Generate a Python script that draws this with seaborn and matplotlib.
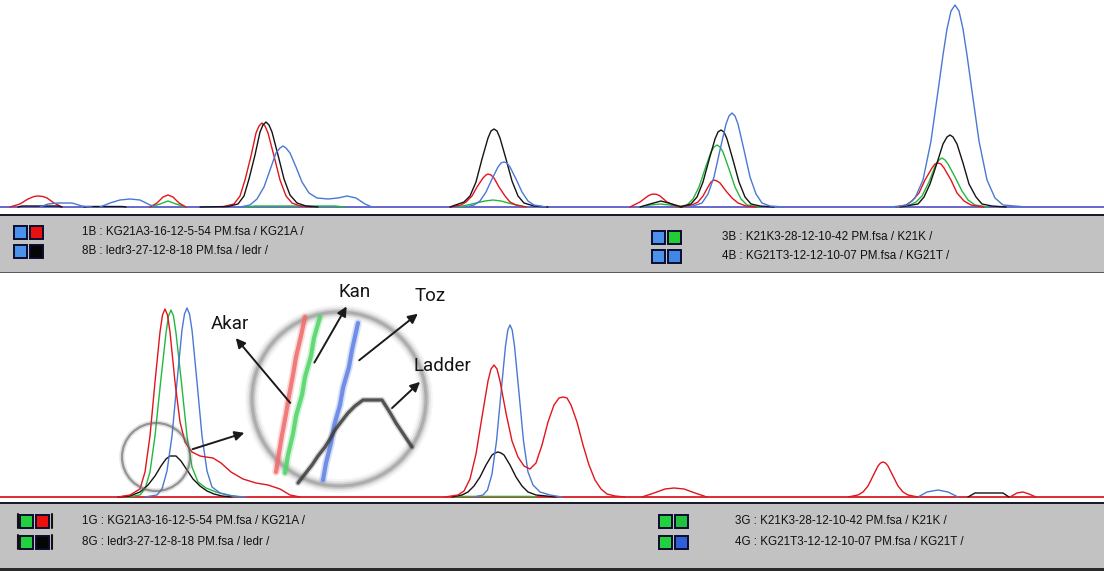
import numpy as np
import pandas as pd
import seaborn as sns
import matplotlib
matplotlib.use("Agg")
import matplotlib.pyplot as plt
from matplotlib.patches import Rectangle, Circle

# ---------------- data (x in trace units, y = signal height) ----------------
top_red = [
    [(10, 0), (20, 3), (28, 8), (34, 10.5), (38, 11), (43, 10.5), (47, 9), (54, 4), (62, 0)],
    [(150, 0), (157, 4), (163, 10), (168, 12), (173, 10), (179, 4), (186, 0)],
    [(222, 0), (234, 3), (240, 11), (245, 27), (251, 51), (256, 74), (259, 81), (262, 84), (265, 81), (268, 74), (274, 51), (280, 27), (286, 11), (292, 4), (300, 1), (312, 0)],
    [(450, 0), (461, 2), (466, 5), (472, 11), (477, 20), (483, 29), (486, 32), (488, 33), (491, 32), (494, 29), (499, 20), (505, 11), (510, 5), (516, 2), (526, 0)],
    [(630, 0), (640, 5), (648, 11), (651, 12.5), (654, 13), (657, 12.5), (660, 11), (667, 5), (678, 0)],
    [(680, 0), (692, 2), (698, 5), (703, 11), (708, 20), (711, 25), (714, 27), (717, 26), (720, 24), (726, 16), (732, 9), (738, 4), (746, 1), (756, 0)],
    [(896, 0), (906, 2), (912, 6), (919, 14), (925, 27), (932, 39), (935, 43), (938, 44), (941, 43), (944, 39), (951, 27), (957, 14), (964, 6), (971, 2), (984, 0)],
]
top_green = [
    [(150, 0), (160, 3), (168, 6), (176, 3), (186, 0)],
    [(245, 0), (255, 1), (335, 1), (345, 0)],
    [(458, 0), (472, 3), (485, 6), (493, 7), (501, 6), (512, 3), (526, 0)],
    [(640, 0), (650, 2), (660, 3), (670, 2), (680, 0)],
    [(676, 0), (687, 2), (693, 8), (699, 20), (705, 38), (711, 55), (714, 60), (717, 62), (720, 60), (723, 55), (729, 38), (735, 20), (741, 8), (747, 2), (760, 0)],
    [(898, 0), (910, 2), (916, 5), (922, 11), (929, 25), (936, 43), (939, 47), (942, 49), (945, 47), (948, 43), (955, 30), (962, 16), (968, 7), (975, 2), (988, 0)],
]
top_black = [
    [(18, 0), (22, 1), (58, 1), (62, 0)],
    [(84, 0), (88, 0.5), (122, 0.5), (126, 0)],
    [(200, 0), (228, 0.5), (238, 3), (244, 11), (249, 28), (255, 52), (260, 75), (263, 82), (266, 85), (269, 82), (272, 75), (278, 52), (284, 28), (290, 12), (297, 4), (306, 1), (318, 0)],
    [(450, 0), (464, 5), (470, 11), (476, 25), (482, 48), (488, 69), (491, 76), (494, 78), (497, 76), (500, 69), (506, 48), (512, 26), (518, 11), (524, 4), (534, 1), (548, 0)],
    [(640, 0), (650, 3), (661, 6), (672, 3), (682, 0)],
    [(680, 0), (691, 3), (697, 10), (703, 25), (709, 47), (715, 68), (718, 75), (721, 77), (724, 75), (727, 68), (733, 47), (739, 25), (745, 10), (751, 3), (760, 1), (774, 0)],
    [(900, 0), (912, 2), (918, 3), (924, 10), (930, 23), (937, 44), (943, 63), (947, 70), (950, 72), (953, 70), (957, 63), (963, 44), (969, 23), (976, 10), (982, 3), (992, 1), (1006, 0)],
]
top_blue = [
    [(40, 0), (48, 3), (58, 4), (72, 4), (82, 1), (92, 0)],
    [(100, 0), (110, 4), (120, 7), (130, 8), (140, 7), (150, 2), (158, 0)],
    [(240, 0), (250, 2), (257, 8), (264, 20), (270, 37), (276, 54), (280, 59), (283, 61), (286, 59), (290, 54), (296, 40), (302, 25), (309, 14), (317, 9), (328, 8), (338, 9), (347, 11), (356, 9), (365, 3), (372, 0)],
    [(466, 0), (474, 2), (480, 6), (486, 15), (492, 28), (498, 40), (501, 44), (504, 45), (507, 44), (510, 40), (516, 28), (522, 15), (528, 6), (534, 2), (546, 0)],
    [(690, 0), (702, 4), (708, 13), (714, 30), (720, 57), (726, 83), (729, 91), (732, 94), (735, 91), (738, 83), (744, 57), (750, 30), (756, 13), (762, 4), (770, 1), (784, 0)],
    [(890, 0), (900, 1), (907, 2), (915, 9), (923, 27), (931, 66), (939, 123), (943, 152), (947, 178), (951, 196), (955, 202), (959, 196), (963, 178), (967, 152), (971, 123), (979, 66), (987, 27), (995, 9), (1003, 2), (1015, 1), (1026, 0)],
]

bot_red = [
    [(118, 0), (130, 2), (140, 8), (145, 25), (150, 61), (155, 115), (160, 165), (162.5, 182), (165, 188), (167.5, 182), (170, 165), (175, 115), (180, 75), (185, 55), (192, 45), (200, 41), (206, 40), (213, 39), (221, 34), (231, 25), (243, 18), (256, 14), (268, 12), (280, 8), (290, 2), (300, 0)],
    [(445, 0), (458, 2), (464, 6), (470, 18), (476, 43), (482, 80), (488, 116), (491, 128), (494, 132), (497, 128), (500, 116), (506, 84), (512, 56), (518, 40), (524, 31), (530, 28), (536, 34), (542, 52), (548, 75), (554, 92), (559, 99), (563, 100), (567, 99), (571, 92), (577, 75), (583, 52), (589, 32), (595, 17), (601, 8), (607, 3), (615, 1), (625, 0)],
    [(642, 0), (654, 4), (665, 8), (674, 9), (684, 8), (695, 4), (707, 0)],
    [(848, 0), (858, 2), (863, 5), (868, 11), (873, 21), (878, 31), (880.5, 34), (883, 35), (885.5, 34), (888, 31), (893, 21), (898, 11), (903, 5), (908, 2), (918, 0)],
    [(1010, 0), (1017, 4), (1023, 5), (1029, 3), (1036, 0)],
]
bot_green = [
    [(128, 0), (140, 2), (145, 8), (150, 25), (155, 61), (160.5, 114), (166, 164), (168.5, 181), (171, 187), (173.5, 181), (176, 164), (181.5, 114), (187, 61), (192, 30), (198, 15), (206, 9), (216, 5), (228, 2), (240, 0)],
    [(455, 0), (460, 0.6), (530, 0.6), (536, 0)],
]
bot_blue = [
    [(145, 0), (157, 2), (162, 8), (167, 26), (172, 61), (177, 115), (182, 167), (184.5, 183), (187, 189), (189.5, 183), (192, 167), (197, 115), (202, 61), (207, 26), (212, 10), (220, 4), (232, 1), (246, 0)],
    [(474, 0), (483, 2), (487.5, 7), (492, 23), (496.5, 56), (501, 104), (505.5, 151), (507.8, 167), (510, 172), (512.2, 167), (514.5, 151), (519, 104), (523.5, 56), (528, 25), (533, 12), (540, 5), (550, 2), (562, 0)],
    [(918, 0), (927, 5), (938, 7), (948, 5), (958, 0)],
]
bot_black = [
    [(118, 0), (130, 1), (140, 5), (148, 12), (155, 21), (161, 31), (166, 38), (170, 41), (176, 41), (181, 36), (187, 27), (193, 18), (200, 11), (207, 6), (214, 3), (222, 1), (232, 0)],
    [(452, 0), (462, 2), (468, 5), (474, 11), (480, 20), (486, 32), (492, 42), (495, 44), (498, 45), (501, 44), (504, 42), (510, 32), (516, 20), (522, 11), (528, 5), (536, 2), (546, 1), (556, 0)],
    [(968, 0), (975, 4), (1003, 4), (1009, 0)],
]

# magnified view content (bottom panel units)
zoom_red = [(276, 25), (279, 44), (282, 62), (286, 83), (289, 101), (293, 122), (296, 140), (301, 161), (305, 180)]
zoom_green = [(285, 24), (288, 42), (293, 63), (296, 81), (302, 102), (305, 120), (311, 141), (314, 159), (320, 180)]
zoom_blue = [(323, 17), (326, 34), (331, 54), (334, 71), (340, 92), (343, 109), (349, 130), (352, 147), (358, 174)]
zoom_black = [(298, 14), (305, 23), (312, 32), (318, 41), (325, 50), (330, 58), (335, 67), (341, 75), (348, 84), (355, 91), (363, 97), (382, 97), (389, 86), (396, 74), (404, 62), (412, 50)]

labels = ["Akar", "Kan", "Toz", "Ladder"]
label_pos = [(230, 173), (355, 205), (430, 201), (442, 131)]
arrow_from = [(292, 92), (313, 132), (357, 135), (390, 87)]
arrow_to = [(234, 161), (348, 193), (420, 185), (422, 117)]

legend_top_left = ["1B : KG21A3-16-12-5-54 PM.fsa / KG21A /", "8B : ledr3-27-12-8-18 PM.fsa / ledr /"]
legend_top_right = ["3B : K21K3-28-12-10-42 PM.fsa / K21K /", "4B : KG21T3-12-12-10-07 PM.fsa / KG21T /"]
legend_bot_left = ["1G : KG21A3-16-12-5-54 PM.fsa / KG21A /", "8G : ledr3-27-12-8-18 PM.fsa / ledr /"]
legend_bot_right = ["3G : K21K3-28-12-10-42 PM.fsa / K21K /", "4G : KG21T3-12-12-10-07 PM.fsa / KG21T /"]

# ---------------- styling ----------------
sns.set_theme(style="white")
plt.rcParams["font.family"] = ["Liberation Sans", "DejaVu Sans"]

COL = {"red": "#e3141c", "green": "#22b83c", "blue": "#4a78d4", "black": "#141414"}
W, H = 1104, 571
fig = plt.figure(figsize=(W / 100, H / 100), dpi=100)
fig.patch.set_facecolor("white")

bg = fig.add_axes([0, 0, 1, 1], zorder=0)
bg.set_xlim(0, W)
bg.set_ylim(H, 0)
bg.axis("off")


def panel(top_px, bottom_px):
    ax = fig.add_axes([0, 1 - bottom_px / H, 1, (bottom_px - top_px) / H], zorder=2)
    ax.set_facecolor("none")
    return ax


def to_df(traces):
    rows = []
    for dye, segs in traces.items():
        for i, seg in enumerate(segs):
            for x, y in seg:
                rows.append({"x": x, "y": y, "dye": dye, "seg": f"{dye}{i}"})
    return pd.DataFrame(rows)


def finish(ax, ytop):
    ax.set_xlim(0, W)
    ax.set_ylim(-3, ytop)
    ax.axis("off")


ax_top = panel(0, 210)
ax_top.axhline(0, color="#5c5cc8", lw=1.3, zorder=1)
df_top = to_df({"green": top_green, "red": top_red, "black": top_black, "blue": top_blue})
sns.lineplot(data=df_top, x="x", y="y", hue="dye", units="seg", estimator=None, sort=False,
             palette=COL, legend=False, lw=1.0, ax=ax_top, zorder=3)
finish(ax_top, 207)

ax_bot = panel(274, 500)
ax_bot.axhline(0, color="#d81e24", lw=1.3, zorder=1)
df_bot = to_df({"green": bot_green, "black": bot_black, "blue": bot_blue, "red": bot_red})
sns.lineplot(data=df_bot, x="x", y="y", hue="dye", units="seg", estimator=None, sort=False,
             palette=COL, legend=False, lw=1.0, ax=ax_bot, zorder=3)

# magnifier rings
for lw, a in [(10, 0.08), (7, 0.14), (4.5, 0.28), (2.2, 0.45)]:
    ax_bot.add_patch(Circle((339, 98), 87, fill=False, ec="#8a8a8a", lw=lw, alpha=a, zorder=4))
for lw, a in [(4, 0.18), (1.6, 0.65)]:
    ax_bot.add_patch(Circle((156, 40), 34, fill=False, ec="#6a6a6a", lw=lw, alpha=a, zorder=4))

zdf = to_df({"red": [zoom_red], "green": [zoom_green], "blue": [zoom_blue]})
zpal = {"red": "#f06a6a", "green": "#4fd466", "blue": "#5f80e4"}
for lw, a in [(5.5, 0.25), (3.0, 0.85)]:
    sns.lineplot(data=zdf, x="x", y="y", hue="dye", units="seg", estimator=None, sort=False,
                 palette=zpal, legend=False, lw=lw, alpha=a, ax=ax_bot, zorder=5)
zb = to_df({"black": [zoom_black]})
for lw, a in [(4.5, 0.2), (2.4, 0.85)]:
    sns.lineplot(data=zb, x="x", y="y", units="seg", estimator=None, sort=False, color="#3c3c3c",
                 legend=False, lw=lw, alpha=a, ax=ax_bot, zorder=5)
finish(ax_bot, 223)

arrow_kw = dict(arrowstyle="-|>", color="#1a1a1a", lw=1.4, mutation_scale=14)
ax_bot.annotate("", xy=(247, 65), xytext=(190, 47), arrowprops=arrow_kw, zorder=6)
for lab, pos, a0, a1 in zip(labels, label_pos, arrow_from, arrow_to):
    ax_bot.annotate("", xy=a1, xytext=a0, arrowprops=arrow_kw, zorder=6)
    ax_bot.text(pos[0], pos[1], lab, ha="center", va="center", fontsize=13.5,
                family=["Roboto", "DejaVu Sans"], color="#141414", zorder=6)


def bar(y0, y1):
    bg.add_patch(Rectangle((0, y0 - 2.5), W, 2.5, color="#1c1c28", lw=0))
    bg.add_patch(Rectangle((0, y0), W, y1 - y0, color="#c2c2c2", lw=0))
    bg.add_patch(Rectangle((0, y1), W, 1.2, color="#5a5a5a", lw=0))


bar(216, 272)
bar(504, 568)
bg.add_patch(Rectangle((0, 568), W, 3, color="#2a2a2a", lw=0))


def square(x, y, face):
    bg.add_patch(Rectangle((x, y), 13, 13, fc=face, ec="#0c0c30", lw=1.4))


def legend_rows(x_sq, ys, faces, x_txt, texts):
    for y, (f1, f2), t in zip(ys, faces, texts):
        square(x_sq, y - 6.5, f1)
        square(x_sq + 16, y - 6.5, f2)
        bg.text(x_txt, y, t, ha="left", va="center", fontsize=8.4, color="#111")


legend_rows(14, [232, 251], [("#4b92ec", "#ea1010"), ("#4b92ec", "#050505")], 82, legend_top_left)
legend_rows(652, [237, 256], [("#4b92ec", "#22cc33"), ("#4b92ec", "#3f86e6")], 722, legend_top_right)
legend_rows(20, [521, 542], [("#22d040", "#ea1010"), ("#22d040", "#050505")], 82, legend_bot_left)
for y in (521, 542):
    bg.plot([17.5, 17.5], [y - 7, y + 7], color="#111", lw=1.5)
    bg.plot([51.5, 51.5], [y - 7, y + 7], color="#111", lw=1.5)
legend_rows(659, [521, 542], [("#22d040", "#22c040"), ("#22d040", "#3060d6")], 735, legend_bot_right)

fig.savefig("out.png", dpi=100, facecolor="white")
